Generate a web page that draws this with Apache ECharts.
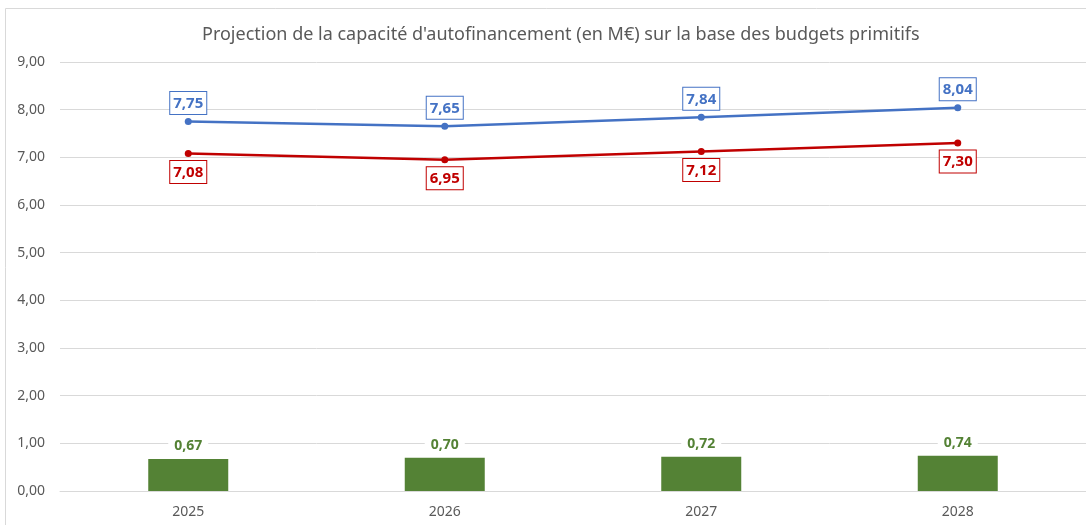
<!DOCTYPE html>
<html lang="fr">
  <head>
    <meta charset="utf-8" />
    <title>Capacité d'autofinancement</title>
    <script src="https://cdn.jsdelivr.net/npm/echarts@6/dist/echarts.min.js"></script>
    <style>
      html, body { margin: 0; padding: 0; background: #fff; }
      #main { width: 1086px; height: 525px; }
    </style>
  </head>
  <body>
    <div id="main"></div>
    <script type="text/javascript">
      const years = ['2025', '2026', '2027', '2028'];
      const blueLine = [7.75, 7.65, 7.84, 8.04];
      const redLine = [7.08, 6.95, 7.12, 7.30];
      const greenBars = [0.67, 0.70, 0.72, 0.74];

      const fmt = (v) => Number(v).toFixed(2).replace('.', ',');
      const font = 'Noto Sans';

      const boxLabel = (color, pos) => ({
        show: true,
        position: pos,
        distance: 4,
        color: color,
        fontFamily: font,
        fontSize: 15,
        fontWeight: 'bold',
        backgroundColor: '#fff',
        borderColor: color,
        borderWidth: 1,
        padding: [4, 3, 3, 3],
        formatter: (p) => fmt(p.value)
      });

      const chart = echarts.init(document.getElementById('main'));
      chart.setOption({
        animation: false,
        textStyle: { fontFamily: font },
        title: {
          text: "Projection de la capacité d'autofinancement (en M€) sur la base des budgets primitifs",
          left: 197,
          top: 21,
          textStyle: { fontFamily: font, fontSize: 18, fontWeight: 'normal', color: '#595959' }
        },
        graphic: [{
          type: 'rect',
          shape: { x: 5.5, y: 8.5, width: 1200, height: 600 },
          style: { fill: 'none', stroke: '#d9d9d9', lineWidth: 1 },
          silent: true
        }],
        grid: { left: 60, right: 0, top: 62, bottom: 34 },
        xAxis: {
          type: 'category',
          data: years,
          axisLine: { show: true, lineStyle: { color: '#d9d9d9' } },
          axisTick: { show: false },
          axisLabel: { color: '#595959', fontSize: 14, margin: 14 }
        },
        yAxis: {
          type: 'value',
          min: 0,
          max: 9,
          interval: 1,
          axisLine: { show: false },
          axisTick: { show: false },
          splitLine: { lineStyle: { color: '#d9d9d9' } },
          axisLabel: { color: '#595959', fontSize: 14, margin: 15, formatter: (v) => fmt(v) }
        },
        series: [
          {
            type: 'bar',
            data: greenBars,
            barWidth: 80,
            itemStyle: { color: '#548235' },
            label: {
              show: true,
              position: 'top',
              distance: 5,
              color: '#548235',
              fontSize: 14,
              fontWeight: 'bold',
              backgroundColor: '#fff',
              padding: [1, 6],
              formatter: (p) => fmt(p.value)
            }
          },
          {
            type: 'line',
            data: blueLine,
            symbol: 'circle',
            symbolSize: 7,
            lineStyle: { color: '#4472C4', width: 2.5 },
            itemStyle: { color: '#4472C4' },
            label: boxLabel('#4472C4', 'top')
          },
          {
            type: 'line',
            data: redLine,
            symbol: 'circle',
            symbolSize: 7,
            lineStyle: { color: '#C00000', width: 2.5 },
            itemStyle: { color: '#C00000' },
            label: boxLabel('#C00000', 'bottom')
          }
        ]
      });
    </script>
  </body>
</html>
